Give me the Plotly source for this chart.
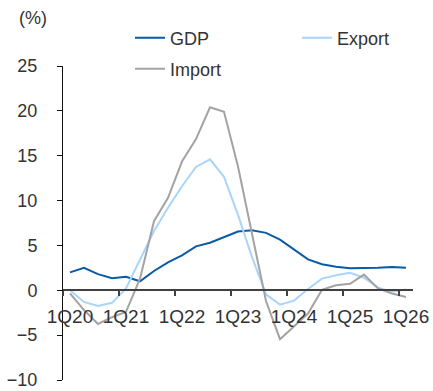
import plotly.graph_objects as go

# Quarterly categories, 1Q20 .. 1Q26
quarters = ["1Q20", "2Q20", "3Q20", "4Q20",
            "1Q21", "2Q21", "3Q21", "4Q21",
            "1Q22", "2Q22", "3Q22", "4Q22",
            "1Q23", "2Q23", "3Q23", "4Q23",
            "1Q24", "2Q24", "3Q24", "4Q24",
            "1Q25", "2Q25", "3Q25", "4Q25",
            "1Q26"]

# YoY growth, %
gdp = [2.0, 2.5, 1.8, 1.35, 1.5, 1.0, 2.15, 3.1, 3.9, 4.9, 5.3, 5.95, 6.55,
       6.7, 6.4, 5.65, 4.6, 3.45, 2.9, 2.62, 2.47, 2.47, 2.52, 2.6, 2.52]
export = [0.0, -1.3, -1.75, -1.4, 0.2, 3.4, 6.6, 9.2, 11.6, 13.75, 14.6, 12.65, 8.4,
          3.7, -0.45, -1.6, -1.15, 0.15, 1.3, 1.67, 1.95, 1.4, 0.3, -0.15, 0.1]
imports = [-0.35, -2.2, -3.75, -3.0, -2.4, 1.3, 7.7, 10.3, 14.35, 16.85, 20.4, 19.9, 13.8,
           6.3, -1.2, -5.45, -4.0, -2.6, 0.05, 0.55, 0.72, 1.75, 0.2, -0.35, -0.75]

year_ticks = ["1Q20", "1Q21", "1Q22", "1Q23", "1Q24", "1Q25", "1Q26"]
y_ticks = [-10, -5, 0, 5, 10, 15, 20, 25]

FONT = "Liberation Sans"
TXT = "#333333"

idx = list(range(len(quarters)))
tick_pos = [quarters.index(q) for q in year_ticks]

fig = go.Figure()
fig.add_trace(go.Scatter(x=idx, y=gdp, name="GDP", mode="lines", showlegend=True,
                         line=dict(color="#0a5aa8", width=2), legend="legend"))
fig.add_trace(go.Scatter(x=idx, y=export, name="Export", mode="lines", showlegend=True,
                         line=dict(color="#a9d5fb", width=2), legend="legend2"))
fig.add_trace(go.Scatter(x=idx, y=imports, name="Import", mode="lines", showlegend=True,
                         line=dict(color="#a3a3a3", width=2), legend="legend3"))

ymin, ymax = -10, 25
zero_pos = (0 - ymin) / (ymax - ymin)

legend_common = dict(orientation="h", xref="paper", yref="paper",
                     xanchor="left", yanchor="middle",
                     font=dict(family=FONT, size=18, color=TXT),
                     bgcolor="rgba(0,0,0,0)", borderwidth=0)

fig.update_layout(
    width=433, height=391,
    margin=dict(l=63, r=20, t=66, b=11, autoexpand=False),
    showlegend=True,
    plot_bgcolor="white", paper_bgcolor="white",
    font=dict(family=FONT, size=18, color=TXT),
    legend=dict(x=(130 - 63) / 350, y=(380 - 38) / 314, **legend_common),
    legend2=dict(x=(297 - 63) / 350, y=(380 - 38) / 314, **legend_common),
    legend3=dict(x=(130 - 63) / 350, y=(380 - 69) / 314, **legend_common),
    xaxis=dict(
        range=[-0.5, len(quarters) - 0.5],
        tickmode="array", tickvals=tick_pos, ticktext=year_ticks,
        ticks="", showgrid=False, zeroline=False,
        showline=True, linecolor="#404040", linewidth=1.5,
        anchor="free", position=zero_pos,
        ticklabelstandoff=9,
        minor=dict(tick0=-0.5, dtick=4, ticks="outside", ticklen=5,
                   tickcolor="#404040", tickwidth=1.5, showgrid=False),
        tickfont=dict(family=FONT, size=19, color=TXT),
    ),
    yaxis=dict(
        range=[ymin, ymax], tickmode="array", tickvals=y_ticks,
        showgrid=False, zeroline=False,
        showline=True, linecolor="#111111", linewidth=1,
        ticks="outside", ticklen=5, tickcolor="#111111",
        ticklabelstandoff=16,
        tickfont=dict(family=FONT, size=18, color=TXT),
    ),
    annotations=[dict(text="(%)", xref="paper", yref="paper",
                      x=(17 - 63) / 350, y=(380 - 18) / 314,
                      xanchor="left", yanchor="middle", showarrow=False,
                      font=dict(family=FONT, size=18, color=TXT))],
)

fig.write_html("out.html")
